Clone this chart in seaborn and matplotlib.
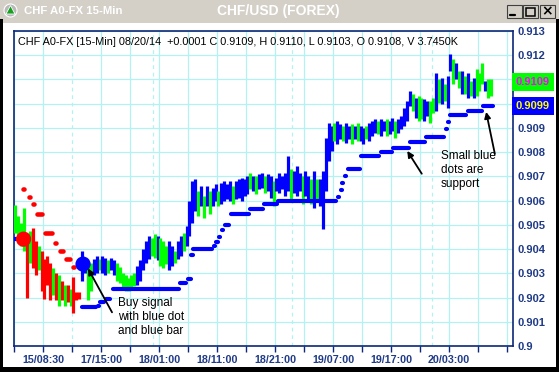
import numpy as np
import pandas as pd
import matplotlib
matplotlib.use("Agg")
import matplotlib.pyplot as plt
import seaborn as sns
from matplotlib.patches import Rectangle, Ellipse, Polygon
from matplotlib.lines import Line2D
from matplotlib.colors import LinearSegmentedColormap
from matplotlib.transforms import blended_transform_factory

# ---------------- data ----------------
bar_start = -4.75   # time index (hours of trading) of first 30-min bar
bar_step = 0.5
highs = [0.90583, 0.90538, 0.90509, 0.90571, 0.90435, 0.90476, 0.90488, 0.90435, 0.90414, 0.90394,
         0.90361, 0.90373, 0.90344, 0.90320, 0.90303, 0.90291, 0.90270, 0.90250, 0.90250, 0.90237,
         0.90283, 0.90221, 0.90221, 0.90394, 0.90361, 0.90332, 0.90344, 0.90361, 0.90373, 0.90361,
         0.90373, 0.90365, 0.90353, 0.90365, 0.90353, 0.90344, 0.90324, 0.90303, 0.90291, 0.90279,
         0.90291, 0.90303, 0.90332, 0.90353, 0.90402, 0.90435, 0.90456, 0.90447, 0.90464, 0.90456,
         0.90447, 0.90435, 0.90414, 0.90435, 0.90414, 0.90394, 0.90435, 0.90456, 0.90468, 0.90497,
         0.90600, 0.90682, 0.90690, 0.90641, 0.90661, 0.90620, 0.90661, 0.90641, 0.90653, 0.90670,
         0.90641, 0.90674, 0.90682, 0.90670, 0.90682, 0.90661, 0.90682, 0.90690, 0.90694, 0.90690,
         0.90702, 0.90715, 0.90702, 0.90702, 0.90711, 0.90715, 0.90702, 0.90711, 0.90702, 0.90682,
         0.90694, 0.90715, 0.90702, 0.90715, 0.90785, 0.90731, 0.90723, 0.90744, 0.90715, 0.90702,
         0.90723, 0.90702, 0.90690, 0.90723, 0.90690, 0.90690, 0.90723, 0.90859, 0.90921, 0.90908,
         0.90921, 0.90929, 0.90916, 0.90908, 0.90921, 0.90908, 0.90916, 0.90908, 0.90921, 0.90908,
         0.90900, 0.90908, 0.90921, 0.90929, 0.90937, 0.90929, 0.90937, 0.90929, 0.90937, 0.90929,
         0.90941, 0.90929, 0.90937, 0.90949, 0.90982, 0.91011, 0.91052, 0.91040, 0.91023, 0.91032,
         0.91023, 0.91019, 0.91011, 0.91011, 0.91023, 0.91126, 0.91102, 0.91106, 0.91081, 0.91114,
         0.91205, 0.91184, 0.91167, 0.91135, 0.91135, 0.91114, 0.91126, 0.91093, 0.91106, 0.91143,
         0.91126, 0.91167, 0.91093, 0.91102, 0.91100]
lows = [0.90468, 0.90435, 0.90414, 0.90394, 0.90200, 0.90344, 0.90320, 0.90291, 0.90312, 0.90229,
        0.90196, 0.90250, 0.90188, 0.90209, 0.90188, 0.90167, 0.90188, 0.90167, 0.90180, 0.90167,
        0.90135, 0.90188, 0.90196, 0.90270, 0.90303, 0.90188, 0.90229, 0.90291, 0.90303, 0.90312,
        0.90303, 0.90291, 0.90303, 0.90312, 0.90291, 0.90270, 0.90258, 0.90237, 0.90229, 0.90229,
        0.90237, 0.90246, 0.90250, 0.90270, 0.90312, 0.90344, 0.90361, 0.90373, 0.90365, 0.90353,
        0.90332, 0.90320, 0.90340, 0.90312, 0.90332, 0.90344, 0.90361, 0.90373, 0.90394, 0.90414,
        0.90456, 0.90509, 0.90558, 0.90538, 0.90579, 0.90530, 0.90579, 0.90546, 0.90579, 0.90600,
        0.90579, 0.90587, 0.90600, 0.90608, 0.90600, 0.90587, 0.90608, 0.90612, 0.90600, 0.90620,
        0.90628, 0.90649, 0.90641, 0.90628, 0.90649, 0.90653, 0.90632, 0.90641, 0.90612, 0.90579,
        0.90641, 0.90632, 0.90649, 0.90620, 0.90641, 0.90600, 0.90632, 0.90620, 0.90641, 0.90587,
        0.90620, 0.90600, 0.90587, 0.90571, 0.90608, 0.90579, 0.90484, 0.90641, 0.90764, 0.90805,
        0.90846, 0.90834, 0.90855, 0.90846, 0.90838, 0.90855, 0.90834, 0.90855, 0.90846, 0.90846,
        0.90834, 0.90855, 0.90846, 0.90867, 0.90879, 0.90875, 0.90867, 0.90888, 0.90867, 0.90875,
        0.90888, 0.90859, 0.90879, 0.90896, 0.90908, 0.90929, 0.90991, 0.90970, 0.90941, 0.90929,
        0.90937, 0.90929, 0.90949, 0.90921, 0.90962, 0.90970, 0.91003, 0.90999, 0.91011, 0.90982,
        0.91135, 0.91081, 0.91102, 0.91065, 0.91040, 0.91040, 0.91023, 0.91032, 0.91023, 0.91032,
        0.91052, 0.91081, 0.91052, 0.91023, 0.91030]
bar_colors = ("ggggrgrrgr" "rrrgrgrgrg" "rrrbbggbbg" "bbgbbggggg"
              "ggbbbbbggb" "gggbbgbbgb" "bbbgbgbgbb" "gbbbbgbbbb"
              "bgbgbbgbbg" "bbbbbgbbbg" "bbgbgbbbbb" "gbbgbbgbgb"
              "bgbbbgbbgb" "bgbbbbbgbg" "gbbggbgbgb" "bgbgbgbgbg" "ggbgg")

# red resistance dots (start, end, level)
res_x0 = [-3.5, -2.5, -1.8, -1.1, 0.4, 2.1, 3.0, 4.0, 5.1]
res_x1 = [-3.2, -2.3, -1.5, -0.1, 1.6, 2.3, 3.4, 4.6, 5.3]
res_level = [0.90649, 0.90616, 0.90587, 0.90546, 0.90468, 0.90427, 0.90390, 0.90357, 0.90328]

# blue support dots (start, end, level)
sup_x0 = [-5.3, 6.7, 9.4, 9.9, 10.9, 12.1, 23.7, 25.0, 25.6, 25.9, 29.4, 29.9, 30.4, 30.9, 31.3,
          32.4, 35.7, 38.1, 40.5, 50.9, 51.3, 51.6, 52.0, 52.5, 54.8, 58.2, 60.4, 63.3, 66.0,
          69.4, 69.8, 70.2, 73.2, 75.8]
sup_x1 = [-4.3, 9.1, 9.7, 10.6, 11.6, 23.5, 24.7, 25.5, 25.8, 29.1, 29.6, 30.1, 30.6, 31.1, 32.0,
          35.5, 37.9, 40.3, 50.6, 51.1, 51.5, 51.8, 52.2, 54.6, 58.0, 60.2, 63.1, 65.8, 69.2,
          69.6, 70.0, 73.0, 75.6, 77.6]
sup_level = [0.90443, 0.90159, 0.90167, 0.90180, 0.90196, 0.90237, 0.90258, 0.90275, 0.90377,
             0.90402, 0.90414, 0.90430, 0.90451, 0.90480, 0.90500, 0.90546, 0.90567, 0.90587,
             0.90600, 0.90616, 0.90645, 0.90672, 0.90700, 0.90731, 0.90785, 0.90801, 0.90818,
             0.90842, 0.90863, 0.90896, 0.90925, 0.90954, 0.90970, 0.90990]

sell_signal = (-3.35, 0.90441)
buy_signal = (6.9, 0.90338)

y_tick_vals = [0.900, 0.901, 0.902, 0.903, 0.904, 0.905, 0.906, 0.907, 0.908, 0.909,
               0.910, 0.911, 0.912, 0.913]
y_tick_labels = ["0.9", "0.901", "0.902", "0.903", "0.904", "0.905", "0.906", "0.907",
                 "0.908", "0.909", "", "", "0.912", "0.913"]
x_tick_vals = [-5, 0, 5, 10, 15, 20, 25, 30, 35, 40, 45, 50, 55, 60, 65, 70, 75, 80]
x_tick_labels = ["", "15/08:30", "", "17/15:00", "", "18/01:00", "", "18/11:00", "",
                 "18/21:00", "", "19/07:00", "", "19/17:00", "", "20/03:00", "", ""]
day_breaks = [5, 19, 43, 67]

last_close = 0.9109
last_support = 0.9099
header = ("CHF A0-FX [15-Min] 08/20/14  +0.0001 C 0.9109, H 0.9110, "
          "L 0.9103, O 0.9108, V 3.7450K")

# ---------------- style ----------------
sns.set_style("white")
plt.rcParams['font.family'] = ['Liberation Sans', 'DejaVu Sans']

GREEN, BLUE, RED = "#00ff00", "#0000ff", "#ff0000"
NAVY = "#0c2878"
LBL = "#1f3a86"
GRID = "#b2f2f2"
cmap = {"g": GREEN, "b": BLUE, "r": RED}

W, H = 559, 372
fig = plt.figure(figsize=(W / 100, H / 100), dpi=100)
fig.patch.set_facecolor("white")


def fx(px):
    return px / W


def fy(py):
    return 1 - py / H


# window chrome
fig.patches.append(Rectangle((0, fy(23)), 1, 23 / H, transform=fig.transFigure,
                             fc="#d4d0c8", ec="none", zorder=0))
tb = fig.add_axes([fx(1), fy(19), fx(557), 17 / H])
grad = np.linspace(0, 1, 256).reshape(1, -1)
tb.imshow(grad, aspect="auto", extent=[0, 1, 0, 1],
          cmap=LinearSegmentedColormap.from_list("tb", ["#0a246a", "#3a6ab0", "#a6caf0"]))
tb.axis("off")
for x0, y0, w, h in [(0, 19, 3, 353), (0, 367, 559, 5), (556, 19, 3, 353)]:
    fig.patches.append(Rectangle((fx(x0), fy(y0 + h)), w / W, h / H, transform=fig.transFigure,
                                 fc="black", ec="none", zorder=5))
fig.patches.append(Ellipse((fx(10.5), fy(10.5)), 13 / W, 13 / H, transform=fig.transFigure,
                           fc="#b8b8b8", ec="white", lw=0.8, zorder=6))
fig.patches.append(Polygon([(fx(10.5), fy(5.5)), (fx(6), fy(14)), (fx(15), fy(14))],
                           closed=True, transform=fig.transFigure, fc="#18a020", ec="white",
                           lw=0.6, zorder=7))
fig.text(fx(24), fy(10.5), "CHF A0-FX 15-Min", color="white", fontsize=8.2,
         fontweight="bold", va="center", ha="left", zorder=7)
fig.text(fx(278), fy(10.5), "CHF/USD (FOREX)", color="white", fontsize=10,
         fontweight="bold", va="center", ha="center", zorder=7)
for bx in [507, 523, 540]:
    fig.patches.append(Rectangle((fx(bx), fy(18)), 15 / W, 13 / H, transform=fig.transFigure,
                                 fc="#d4d0c8", ec="#404040", lw=0.8, zorder=6))
fig.lines.append(Line2D([fx(510), fx(515)], [fy(15), fy(15)], transform=fig.transFigure,
                        color="black", lw=1.6, zorder=7))
fig.patches.append(Rectangle((fx(526), fy(15.5)), 9 / W, 8 / H, transform=fig.transFigure,
                             fc="none", ec="black", lw=1.1, zorder=7))
fig.text(fx(547.5), fy(11), "×", color="black", fontsize=10, fontweight="bold",
         ha="center", va="center", family="DejaVu Sans", zorder=7)

# ---------------- main chart ----------------
ax = fig.add_axes([fx(14), fy(346), (513 - 14) / W, (346 - 31) / H])
ax.set_facecolor("white")
ax.set_xlim(-5, 81.03)
ax.set_ylim(0.9, 0.91296)

for yv in y_tick_vals:
    ax.axhline(yv, color=GRID, lw=0.9, zorder=0)
for xv in x_tick_vals:
    if xv not in day_breaks:
        ax.axvline(xv, color=GRID, lw=0.9, zorder=0)
for xv in day_breaks:
    ax.axvline(xv, color=GRID, lw=0.9, dashes=(3, 3), zorder=0)

df = pd.DataFrame({"t": bar_start + bar_step * np.arange(len(highs)),
                   "high": highs, "low": lows,
                   "color": [cmap[c] for c in bar_colors]})
ax.vlines(df["t"], df["low"], df["high"], colors=df["color"], linewidth=2.3, zorder=3)

rl = ax.hlines(res_level, res_x0, res_x1, colors=RED, linewidth=3.3, zorder=4)
rl.set_capstyle("round")
sl = ax.hlines(sup_level, sup_x0, sup_x1, colors=BLUE, linewidth=3.0, zorder=4)
sl.set_capstyle("round")

sig = pd.DataFrame({"t": [sell_signal[0], buy_signal[0]],
                    "p": [sell_signal[1], buy_signal[1]],
                    "kind": ["sell", "buy"]})
sns.scatterplot(data=sig, x="t", y="p", hue="kind", palette={"sell": RED, "buy": BLUE},
                s=120, linewidth=0, legend=False, ax=ax, zorder=6)

ax.set_xticks(x_tick_vals)
ax.set_xticklabels(x_tick_labels)
ax.set_yticks(y_tick_vals)
ax.set_yticklabels(y_tick_labels)
ax.yaxis.tick_right()
ax.tick_params(axis="y", length=0, pad=3, labelsize=8, labelcolor=LBL)
ax.tick_params(axis="x", length=4, width=1, color=NAVY, pad=2.5, labelsize=7.7,
               labelcolor=LBL, bottom=True)
for lbl in ax.get_xticklabels() + ax.get_yticklabels():
    lbl.set_fontweight("bold")
ax.set_xlabel("")
ax.set_ylabel("")
for s in ax.spines.values():
    s.set_visible(True)
    s.set_color(NAVY)
    s.set_linewidth(1.2)

ax.text(0.008, 0.965, header, transform=ax.transAxes, fontsize=7.85, va="center",
        ha="left", color="black")

tr = blended_transform_factory(ax.transAxes, ax.transData)
ax.text(1.006, last_close, f"{last_close:.4f}", transform=tr, fontsize=8, fontweight="bold",
        color="#ff00ff", va="center", ha="left", clip_on=False,
        bbox=dict(boxstyle="square,pad=0.38", fc=GREEN, ec="none"))
ax.text(1.006, last_support, f"{last_support:.4f}", transform=tr, fontsize=8, fontweight="bold",
        color="#ffff00", va="center", ha="left", clip_on=False,
        bbox=dict(boxstyle="square,pad=0.38", fc=BLUE, ec="none"))

arrow = dict(arrowstyle="-|>", color="black", lw=1.3, mutation_scale=9, shrinkA=0, shrinkB=0)
ax.annotate("", xy=(7.76, 0.90320), xytext=(11.9, 0.90139), arrowprops=arrow, zorder=7)
ax.annotate("", xy=(62.8, 0.90805), xytext=(65.3, 0.90711), arrowprops=arrow, zorder=7)
ax.annotate("", xy=(76.4, 0.90966), xytext=(77.9, 0.90793), arrowprops=arrow, zorder=7)

fig.text(fx(118), fy(297), "Buy signal\nwith blue dot\nand blue bar", fontsize=8.5,
         va="top", ha="left", linespacing=1.2, color="black")
fig.text(fx(441), fy(150), "Small blue\ndots are\nsupport", fontsize=8.5,
         va="top", ha="left", linespacing=1.2, color="black")

fig.savefig("out.png", dpi=100, facecolor=fig.get_facecolor())
